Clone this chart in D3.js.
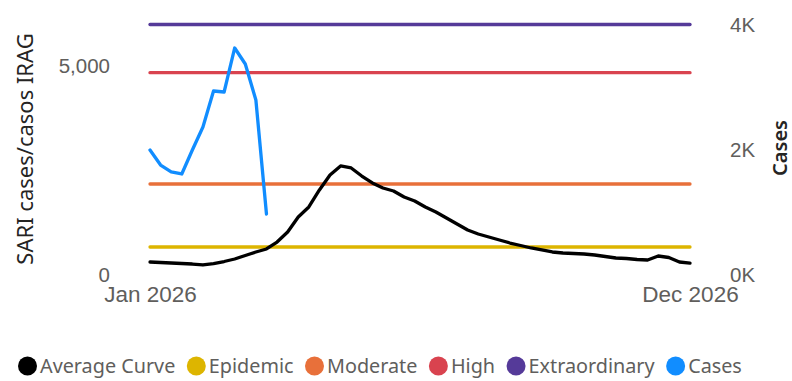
<!DOCTYPE html>
<html>
<head>
<meta charset="utf-8">
<script src="https://cdn.jsdelivr.net/npm/d3@7"></script>
<style>
  html, body { margin: 0; padding: 0; background: #fff; }
  svg { display: block; font-family: "Noto Sans", "Open Sans", sans-serif; }
</style>
</head>
<body>
<svg id="chart" width="792" height="381"></svg>
<script>
// ---- data ----
const weekLabels = ["Jan 2026", "Dec 2026"];
const weekCount = 52;
const averageCurve = [311, 299, 287, 275, 263, 240, 275, 323, 383, 467, 551, 623, 790, 1030, 1389, 1629,
  2036, 2395, 2611, 2563, 2371, 2204, 2084, 2012, 1868, 1772, 1629, 1509, 1365, 1222, 1078, 982,
  910, 838, 766, 707, 647, 599, 551, 527, 515, 503, 479, 443, 407, 395, 371, 359, 455, 419, 311, 287];
const cases = [1996, 1756, 1645, 1613, 1996, 2363, 2938, 2922, 3625, 3369, 2794, 974];
const thresholdNames = ["Epidemic", "Moderate", "High", "Extraordinary"];
const thresholdValues = [671, 2180, 4845, 6000];
const leftTicks = [0, 5000];
const rightTicks = [0, 2000, 4000];
const legendNames = ["Average Curve", "Epidemic", "Moderate", "High", "Extraordinary", "Cases"];
const legendColors = ["#000000", "#DDB500", "#E8703A", "#D9434F", "#553A99", "#118DFF"];
const thresholdColors = ["#DDB500", "#E8703A", "#D9434F", "#553A99"];

// ---- layout ----
const svg = d3.select("#chart");
const x0 = 150, x1 = 690, yTop = 24.5, yBot = 275;

const x = d3.scaleLinear().domain([0, weekCount - 1]).range([x0, x1]);
const yL = d3.scaleLinear().domain([0, 6000]).range([yBot, yTop]);
const yR = d3.scaleLinear().domain([0, 4000]).range([yBot, yTop]);

const tickColor = "#605E5C";
const titleColor = "#252423";

// left axis
const gL = svg.append("g").attr("transform", `translate(${x0},0)`)
  .call(d3.axisLeft(yL).tickValues(leftTicks).tickSize(0).tickPadding(40).tickFormat(d3.format(",")));
gL.select(".domain").remove();
gL.selectAll("text").attr("fill", tickColor).style("font-size", "20.5px").style("font-family", "inherit");

// right axis
const gR = svg.append("g").attr("transform", `translate(${x1},0)`)
  .call(d3.axisRight(yR).tickValues(rightTicks).tickSize(0).tickPadding(40).tickFormat(d => (d / 1000) + "K"));
gR.select(".domain").remove();
gR.selectAll("text").attr("fill", tickColor).style("font-size", "20.5px").style("font-family", "inherit");

// x axis
const gX = svg.append("g").attr("transform", `translate(0,${yBot})`)
  .call(d3.axisBottom(x).tickValues([0, weekCount - 1]).tickSize(0).tickPadding(11)
    .tickFormat((d, i) => weekLabels[i]));
gX.select(".domain").remove();
gX.selectAll("text").attr("fill", tickColor).style("font-size", "22.5px").style("font-family", "inherit");

// axis titles
svg.append("text")
  .attr("transform", `translate(33,${149}) rotate(-90)`)
  .attr("text-anchor", "middle").attr("fill", titleColor)
  .style("font-size", "22px").text("SARI cases/casos IRAG");
svg.append("text")
  .attr("transform", `translate(787,${148}) rotate(-90)`)
  .attr("text-anchor", "middle").attr("fill", titleColor)
  .style("font-size", "20px").style("font-weight", "600").text("Cases");

// thresholds
thresholdValues.forEach((v, i) => {
  svg.append("line")
    .attr("x1", x(0)).attr("x2", x(weekCount - 1))
    .attr("y1", yL(v)).attr("y2", yL(v))
    .attr("stroke", thresholdColors[i]).attr("stroke-width", 3.3).attr("stroke-linecap", "round");
});

// average curve
svg.append("path").datum(averageCurve)
  .attr("fill", "none").attr("stroke", "#000").attr("stroke-width", 3.3)
  .attr("stroke-linejoin", "round").attr("stroke-linecap", "round")
  .attr("d", d3.line().x((d, i) => x(i)).y(d => yL(d)));

// cases
svg.append("path").datum(cases)
  .attr("fill", "none").attr("stroke", "#118DFF").attr("stroke-width", 3.3)
  .attr("stroke-linejoin", "round").attr("stroke-linecap", "round")
  .attr("d", d3.line().x((d, i) => x(i)).y(d => yR(d)));

// legend
const lg = svg.append("g");
let lx = 18;
const ly = 366;
legendNames.forEach((name, i) => {
  lg.append("circle").attr("cx", lx + 9.5).attr("cy", ly).attr("r", 9.5).attr("fill", legendColors[i]);
  const t = lg.append("text").attr("x", lx + 22).attr("y", ly).attr("dy", "0.35em")
    .attr("fill", tickColor).style("font-size", "19.8px").text(name);
  const w = t.node().getComputedTextLength();
  lx = lx + 22 + w + 11.5;
});
</script>
</body>
</html>
